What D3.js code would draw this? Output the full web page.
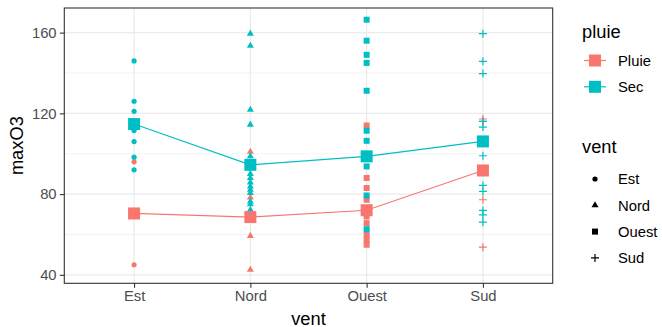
<!DOCTYPE html>
<html>
<head>
<meta charset="utf-8">
<script src="https://cdn.jsdelivr.net/npm/d3@7"></script>
<style>
  html, body { margin: 0; padding: 0; background: #fff; }
  svg { display: block; font-family: "Liberation Sans", Arial, Helvetica, sans-serif; }
</style>
</head>
<body>
<svg id="chart" width="662" height="327"></svg>
<script>
// ---- data ----
const categories = ["Est", "Nord", "Ouest", "Sud"];
const pluieLevels = ["Pluie", "Sec"];
const yTicks = [40, 80, 120, 160];
const yMinor = [60, 100, 140];

const estSec = [146, 126, 121, 111.5, 106, 98.3, 92];
const estPluie = [96, 45];
const nordSec = [159.5, 153.5, 121.8, 114.4, 98.7, 94, 90, 88, 85.8, 83.8, 82.1, 80.5, 76.3, 75, 72.2];
const nordPluie = [101, 78.3, 69, 59.3, 42.5];
const ouestSec = [166.4, 156, 149, 145, 131.2, 111.4, 106.4, 98.7, 93.7, 79.3, 62.6];
const ouestPluie = [114, 88, 83, 77.2, 72, 68.9, 65.6, 59.8, 57.4, 54.9];
const sudSec = [159.5, 145.8, 139.7, 116, 113.2, 106, 99, 84.3, 81.3, 71.9, 69.7, 66.1];
const sudPluie = [117.2, 116, 91.5, 77.2, 53.7];

const meanPluie = [70.4, 68.6, 72.0, 91.7];
const meanSec = [114.7, 94.5, 98.7, 106.1];

// ---- build table ----
const groups = [
  ["Est", "Pluie", estPluie], ["Est", "Sec", estSec],
  ["Nord", "Pluie", nordPluie], ["Nord", "Sec", nordSec],
  ["Ouest", "Pluie", ouestPluie], ["Ouest", "Sec", ouestSec],
  ["Sud", "Pluie", sudPluie], ["Sud", "Sec", sudSec]
];
const points = [];
groups.forEach(([v, p, arr]) => arr.forEach(val => points.push({vent: v, pluie: p, value: val})));
const means = {
  Pluie: categories.map((c, i) => ({vent: c, value: meanPluie[i]})),
  Sec: categories.map((c, i) => ({vent: c, value: meanSec[i]}))
};

// ---- layout ----
const W = 662, H = 327;
const px0 = 64.3, px1 = 552.7, py0 = 8, py1 = 283.3;
const svg = d3.select("#chart");
svg.append("rect").attr("width", W).attr("height", H).attr("fill", "#fff");

const x = d3.scalePoint().domain(categories).range([px0, px1]).padding(0.6);
const y = d3.scaleLinear().domain([35.8, 172.2]).range([py1, py0]);
const color = d3.scaleOrdinal().domain(pluieLevels).range(["#F8766D", "#00BFC4"]);

const gridC = "#EBEBEB";
const grid = svg.append("g");
yMinor.forEach(t => grid.append("line").attr("x1", px0).attr("x2", px1)
  .attr("y1", y(t)).attr("y2", y(t)).attr("stroke", gridC).attr("stroke-width", 0.6));
yTicks.forEach(t => grid.append("line").attr("x1", px0).attr("x2", px1)
  .attr("y1", y(t)).attr("y2", y(t)).attr("stroke", gridC).attr("stroke-width", 1.2));
categories.forEach(c => grid.append("line").attr("x1", x(c)).attr("x2", x(c))
  .attr("y1", py0).attr("y2", py1).attr("stroke", gridC).attr("stroke-width", 1.2));

// symbols
function shapePath(vent) {
  if (vent === "Est") return d3.symbol(d3.symbolCircle, Math.PI * 2.6 * 2.6)();
  if (vent === "Nord") return d3.symbol(d3.symbolTriangle, 7 * 7 * 0.433)();
  if (vent === "Ouest") return d3.symbol(d3.symbolSquare, 6 * 6)();
  const h = 4;
  return `M${-h},0H${h}M0,${-h}V${h}`;
}
const pts = svg.append("g");
points.forEach(d => {
  const isPlus = d.vent === "Sud";
  pts.append("path")
    .attr("d", shapePath(d.vent))
    .attr("transform", `translate(${x(d.vent)},${y(d.value)})`)
    .attr("fill", isPlus ? "none" : color(d.pluie))
    .attr("stroke", isPlus ? color(d.pluie) : "none")
    .attr("stroke-width", isPlus ? 1.2 : 0);
});

// mean lines + squares
const line = d3.line().x(d => x(d.vent)).y(d => y(d.value));
pluieLevels.forEach(p => {
  svg.append("path").datum(means[p]).attr("d", line)
    .attr("fill", "none").attr("stroke", color(p)).attr("stroke-width", 1.2);
});
pluieLevels.forEach(p => {
  means[p].forEach(d => {
    svg.append("rect").attr("x", x(d.vent) - 6).attr("y", y(d.value) - 6)
      .attr("width", 12).attr("height", 12).attr("fill", color(p));
  });
});

// panel border
svg.append("rect").attr("x", px0).attr("y", py0).attr("width", px1 - px0).attr("height", py1 - py0)
  .attr("fill", "none").attr("stroke", "#333333").attr("stroke-width", 1.1);

// axes
const yAxis = d3.axisLeft(y).tickValues(yTicks).tickSize(4.5).tickPadding(3.2);
const gy = svg.append("g").attr("transform", `translate(${px0},0)`).call(yAxis);
const xAxis = d3.axisBottom(x).tickSize(4.5).tickPadding(3);
const gx = svg.append("g").attr("transform", `translate(0,${py1})`).call(xAxis);
[gy, gx].forEach(g => {
  g.select(".domain").remove();
  g.selectAll(".tick line").attr("stroke", "#333333").attr("stroke-width", 1.1);
  g.selectAll(".tick text").attr("fill", "#4D4D4D").style("font-size", "14.8px")
    .style("font-family", '"Liberation Sans", Arial, sans-serif');
});

svg.append("text").attr("x", (px0 + px1) / 2).attr("y", 324.5).attr("text-anchor", "middle")
  .style("font-size", "18.3px").attr("fill", "#000").text("vent");
svg.append("text").attr("transform", `translate(23,${(py0 + py1) / 2}) rotate(-90)`)
  .attr("text-anchor", "middle").style("font-size", "18.3px").attr("fill", "#000").text("maxO3");

// legends
const lg = svg.append("g");
lg.append("text").attr("x", 582).attr("y", 38).style("font-size", "18.3px").text("pluie");
pluieLevels.forEach((p, i) => {
  const cy = 60.5 + i * 26.3;
  lg.append("line").attr("x1", 584).attr("x2", 606).attr("y1", cy).attr("y2", cy)
    .attr("stroke", color(p)).attr("stroke-width", 1.2);
  lg.append("rect").attr("x", 595 - 6).attr("y", cy - 6).attr("width", 12).attr("height", 12)
    .attr("fill", color(p));
  lg.append("text").attr("x", 618).attr("y", cy).attr("dy", "0.36em")
    .style("font-size", "14.8px").text(p);
});
lg.append("text").attr("x", 582).attr("y", 153).style("font-size", "18.3px").text("vent");
categories.forEach((c, i) => {
  const cy = 179 + i * 26.3;
  const isPlus = c === "Sud";
  lg.append("path").attr("d", shapePath(c))
    .attr("transform", `translate(595,${cy})`)
    .attr("fill", isPlus ? "none" : "#000")
    .attr("stroke", isPlus ? "#000" : "none").attr("stroke-width", 1.2);
  lg.append("text").attr("x", 618).attr("y", cy).attr("dy", "0.36em")
    .style("font-size", "14.8px").text(c);
});
</script>
</body>
</html>
